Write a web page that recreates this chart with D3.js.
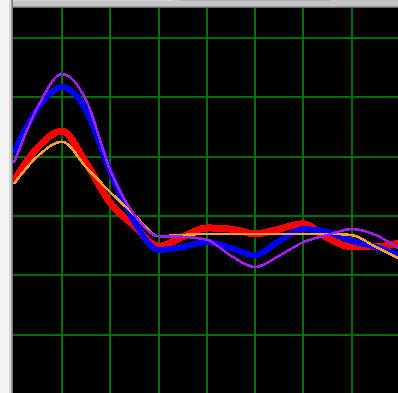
<!DOCTYPE html>
<html>
<head>
<meta charset="utf-8">
<script src="https://cdn.jsdelivr.net/npm/d3@7"></script>
<style>
  html, body { margin: 0; padding: 0; background: #f4f4f4; overflow: hidden; }
  svg { display: block; }
</style>
</head>
<body>
<svg id="chart" width="398" height="393"></svg>
<script>
// Sample positions (half-division steps along the horizontal axis)
const samples = [0, 0.5, 1, 1.5, 2, 2.5, 3, 3.5, 4, 4.5, 5, 5.5, 6, 6.5, 7, 7.5, 8];

// Grid divisions
const xTicks = [1, 2, 3, 4, 5, 6, 7];
const yTicks = [-2, -1, 0, 1, 2, 3];

// Series values
const seriesRed    = [0.59, 1.16, 1.43, 0.89, 0.22, -0.17, -0.51, -0.35, -0.20, -0.22, -0.30, -0.22, -0.13, -0.37, -0.52, -0.52, -0.45];
const seriesBlue   = [1.06, 1.82, 2.17, 1.78, 0.74, -0.10, -0.57, -0.52, -0.44, -0.54, -0.66, -0.42, -0.22, -0.27, -0.42, -0.52, -0.67];
const seriesOrange = [0.54, 1.01, 1.25, 0.82, 0.40, 0.02, -0.34, -0.32, -0.30, -0.30, -0.30, -0.30, -0.30, -0.30, -0.32, -0.52, -0.72];
const seriesPurple = [0.89, 1.84, 2.39, 1.95, 0.77, 0.02, -0.34, -0.35, -0.40, -0.67, -0.86, -0.67, -0.44, -0.32, -0.22, -0.32, -0.56];

const series = [
  { name: "red",    values: seriesRed,    color: "#ff0000", width: 7 },
  { name: "blue",   values: seriesBlue,   color: "#0000ff", width: 6 },
  { name: "orange", values: seriesOrange, color: "#ffa030", width: 2.6 },
  { name: "purple", values: seriesPurple, color: "#a020f0", width: 2.6 }
];

const svg = d3.select("#chart");
const W = 398, H = 393;
const plot = { left: 13, top: 8, right: W, bottom: H };

// Window frame: left strip and top bar
svg.append("rect").attr("x", 0).attr("y", 0).attr("width", 9).attr("height", H).attr("fill", "#f4f4f4");
svg.append("rect").attr("x", 9).attr("y", 0).attr("width", 2).attr("height", H).attr("fill", "#d8d8d8");
svg.append("rect").attr("x", 11).attr("y", 0).attr("width", 1).attr("height", H).attr("fill", "#a0a0a0");
svg.append("rect").attr("x", 12).attr("y", 0).attr("width", 1).attr("height", H).attr("fill", "#787878");
svg.append("rect").attr("x", 13).attr("y", 0).attr("width", W - 13).attr("height", 6).attr("fill", "#c4c4c4");
svg.append("rect").attr("x", 13).attr("y", 0).attr("width", 158).attr("height", 1).attr("fill", "#d6d6d6");
svg.append("rect").attr("x", 180).attr("y", 0).attr("width", 150).attr("height", 1).attr("fill", "#b0b0b0");
svg.append("rect").attr("x", 13).attr("y", 6).attr("width", W - 13).attr("height", 1).attr("fill", "#9a9a9a");
svg.append("rect").attr("x", 13).attr("y", 7).attr("width", W - 13).attr("height", 1).attr("fill", "#6a6a6a");

// Plot area
svg.append("rect")
  .attr("x", plot.left).attr("y", plot.top)
  .attr("width", plot.right - plot.left).attr("height", plot.bottom - plot.top)
  .attr("fill", "#000000");

const x = d3.scaleLinear().domain([0, 8]).range([13.8, 399.8]);
const y = d3.scaleLinear().domain([-3, 3.5]).range([394.2, 8.1]);

const g = svg.append("g");

// Grid
g.append("g")
  .attr("shape-rendering", "crispEdges")
  .selectAll("line.v").data(xTicks).join("line")
  .attr("x1", d => x(d)).attr("x2", d => x(d))
  .attr("y1", plot.top).attr("y2", plot.bottom)
  .attr("stroke", "#007000").attr("stroke-width", 2);

g.append("g")
  .attr("shape-rendering", "crispEdges")
  .selectAll("line.h").data(yTicks).join("line")
  .attr("x1", plot.left).attr("x2", plot.right)
  .attr("y1", d => y(d)).attr("y2", d => y(d))
  .attr("stroke", "#007000").attr("stroke-width", 2);

// Curves
const line = d3.line()
  .x((d, i) => x(samples[i]))
  .y(d => y(d))
  .curve(d3.curveMonotoneX);

g.append("defs").append("clipPath").attr("id", "plotClip")
  .append("rect")
  .attr("x", plot.left).attr("y", plot.top)
  .attr("width", plot.right - plot.left).attr("height", plot.bottom - plot.top);

g.append("g")
  .attr("clip-path", "url(#plotClip)")
  .selectAll("path").data(series).join("path")
  .attr("d", d => line(d.values))
  .attr("fill", "none")
  .attr("stroke", d => d.color)
  .attr("stroke-width", d => d.width)
  .attr("stroke-linejoin", "round")
  .attr("shape-rendering", "crispEdges");
</script>
</body>
</html>
